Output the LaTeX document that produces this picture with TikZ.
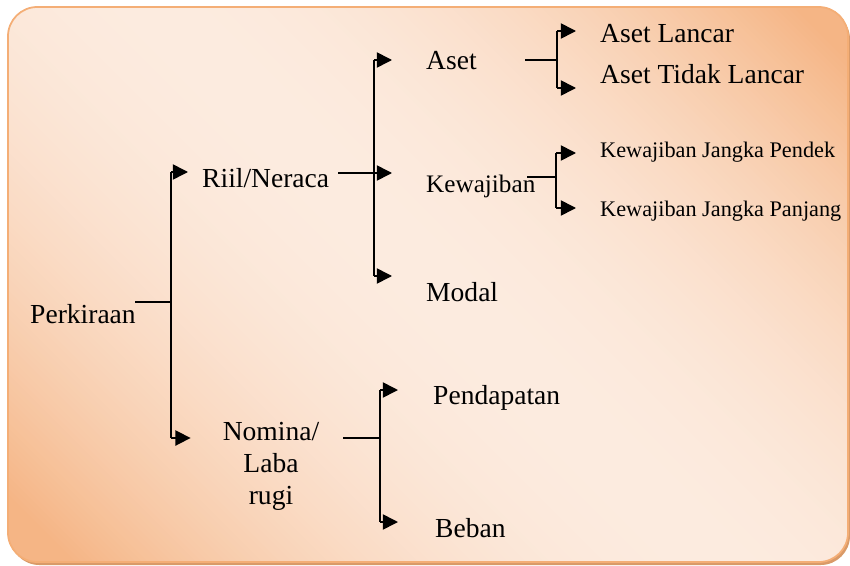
\documentclass[tikz,border=0pt]{standalone}
\usepackage{fontspec}
\setmainfont{Liberation Serif}
\usetikzlibrary{arrows.meta}
\definecolor{boxorange}{HTML}{F5B585}
\definecolor{boxpeach}{HTML}{FCEBDF}
\definecolor{boxedge}{HTML}{F4AE76}
\definecolor{boxshadow}{HTML}{D99A68}
\newcommand{\bigtext}{\fontsize{23.5}{27.5}\selectfont}
\newcommand{\midtext}{\fontsize{21.5}{25}\selectfont}
\newcommand{\smalltext}{\fontsize{19}{23}\selectfont}
\newcommand{\lightU}{150}
\newcommand{\spreadU}{640}

\begin{document}
\begin{tikzpicture}[x=0.03cm, y=-0.03cm,
    lbl/.style={inner sep=0pt, anchor=base west, font=\bigtext},
    small/.style={lbl, font=\smalltext},
    conn/.style={line width=1.4pt},
    arrowto/.style={conn, -{Triangle[length=13pt,width=13pt]}, shorten >=#1},
    arrowto/.default=0.42cm]

        \useasboundingbox (0,0) rectangle (850,565);

        % Background box: diagonal bands, orange at two corners
        \fill[boxshadow, rounded corners=25pt] (10,10) rectangle (850,565);
        \begin{scope}
            \clip[rounded corners=25pt] (8,7) rectangle (848,562);
            \foreach \u in {-600,-594,...,880} {
                \pgfmathsetmacro{\mix}{max(0,100*(1-((\u+3-\lightU)/\spreadU)^2))}
                \fill[boxpeach!\mix!boxorange] (\u,0) -- (\u+8,0) -- (\u+573,565) -- (\u+565,565) -- cycle;
            }
        \end{scope}
        \draw[boxedge, line width=1.5pt, rounded corners=25pt] (8,7) rectangle (848,562);

        % Labels
        \node[lbl] (perk) at (30,323) {Perkiraan};
        \node[lbl] (riil) at (202,187) {Riil/Neraca};
        \node[inner sep=0pt, anchor=north, font=\bigtext, align=center] (nom) at (271,422) {Nomina/\\Laba\\rugi};
        \node[lbl] (aset) at (426,70) {Aset};
        \node[lbl, font=\midtext] (kew) at (426,192) {Kewajiban};
        \node[lbl] (modal) at (426,301) {Modal};
        \node[lbl] (asetL) at (600,43) {Aset Lancar};
        \node[lbl] (asetTL) at (600,84) {Aset Tidak Lancar};
        \node[small] (kjp) at (600,157) {Kewajiban Jangka Pendek};
        \node[small] (kjpj) at (600,216) {Kewajiban Jangka Panjang};
        \node[lbl] (pend) at (433,404) {Pendapatan};
        \node[lbl] (beban) at (435,537) {Beban};

        % Bracket points
        \coordinate (s1) at (135,302); \coordinate (j1) at (171,302);
        \coordinate (t1) at (171,172); \coordinate (u1) at (171,438);
        \coordinate (s2) at (338,173); \coordinate (j2) at (374,173);
        \coordinate (t2) at (374,60);  \coordinate (u2) at (374,276);
        \coordinate (s3) at (525,60);  \coordinate (j3) at (557,60);
        \coordinate (t3) at (557,31);  \coordinate (u3) at (557,88);
        \coordinate (s4) at (527,177); \coordinate (j4) at (556,177);
        \coordinate (t4) at (556,153); \coordinate (u4) at (556,208);
        \coordinate (s5) at (343,438); \coordinate (j5) at (380,438);
        \coordinate (t5) at (380,390); \coordinate (u5) at (380,522);

        % Perkiraan
        \draw[conn] (s1) -- (j1);
        \draw[conn] (t1) -- (u1);
        \draw[arrowto] (t1) -- (t1 -| riil.west);
        \draw[arrowto=0.96cm] (u1) -- (u1 -| nom.west);

        % Riil/Neraca
        \draw[conn] (s2) -- (j2);
        \draw[conn] (t2) -- (u2);
        \draw[arrowto=1.02cm] (t2) -- (t2 -| aset.west);
        \draw[arrowto=1.02cm] (j2) -- (j2 -| kew.west);
        \draw[arrowto=1.02cm] (u2) -- (u2 -| modal.west);

        % Aset
        \draw[conn] (s3) -- (j3);
        \draw[conn] (t3) -- (u3);
        \draw[arrowto=0.72cm] (t3) -- (t3 -| asetL.west);
        \draw[arrowto=0.72cm] (u3) -- (u3 -| asetTL.west);

        % Kewajiban
        \draw[conn] (s4) -- (j4);
        \draw[conn] (t4) -- (u4);
        \draw[arrowto=0.72cm] (t4) -- (t4 -| kjp.west);
        \draw[arrowto=0.72cm] (u4) -- (u4 -| kjpj.west);

        % Nomina/Laba rugi
        \draw[conn] (s5) -- (j5);
        \draw[conn] (t5) -- (u5);
        \draw[arrowto=1.05cm] (t5) -- (t5 -| pend.west);
        \draw[arrowto=1.11cm] (u5) -- (u5 -| beban.west);
    \end{tikzpicture}
\end{document}
